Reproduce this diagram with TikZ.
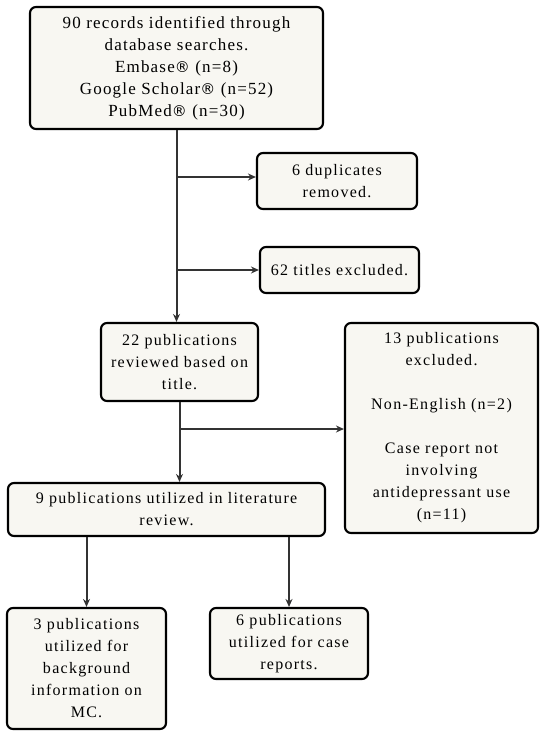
\documentclass[tikz,border=0pt]{standalone}
\usepackage{fontspec}
\setmainfont[LetterSpace=8]{Liberation Serif}
\newfontfamily\wideserif[LetterSpace=7]{Liberation Serif}
\newfontfamily\symfont{DejaVu Sans}
\newcommand{\regmark}{{\symfont\fontsize{15}{22}\selectfont ®}}
\usetikzlibrary{arrows.meta}
\definecolor{boxfill}{HTML}{F8F7F2}
\definecolor{linecol}{HTML}{333333}
\begin{document}
\begin{tikzpicture}[x=1pt,y=-1pt,
  box/.style={draw=black,line width=2.1pt,fill=boxfill,rounded corners=6pt,
    align=center,inner sep=0pt,font=\fontsize{16}{22}\selectfont},
  conn/.style={draw=linecol,line width=2pt,-{Stealth[length=8pt,width=7pt]}}]
\useasboundingbox (0,0) rectangle (550,741);
\node[box,minimum width=293pt,minimum height=122pt,font=\wideserif\fontsize{17}{22}\selectfont] (rec) at (176.5,68)
  {90 records identified through\\database searches.\\Embase\regmark{} (n=8)\\Google Scholar\regmark{} (n=52)\\PubMed\regmark{} (n=30)};
\node[box,minimum width=160pt,minimum height=56pt] (dup) at (337,181)
  {6 duplicates\\removed.};
\node[box,minimum width=159pt,minimum height=46pt] (tit) at (339.5,270)
  {62 titles excluded.};
\node[box,minimum width=157pt,minimum height=78pt] (rev) at (179.5,362)
  {22 publications\\reviewed based on\\title.};
\node[box,minimum width=193pt,minimum height=210pt] (exc) at (441.5,428)
  {13 publications\\excluded.\\[22pt]Non-English (n=2)\\[22pt]Case report not\\involving\\antidepressant use\\(n=11)};
\node[box,minimum width=317pt,minimum height=53pt] (lit) at (166.5,509.5)
  {9 publications utilized in literature\\review.};
\node[box,minimum width=159pt,minimum height=121pt] (bg) at (86.5,668.5)
  {3 publications\\utilized for\\background\\information on\\MC.};
\node[box,minimum width=158pt,minimum height=71pt] (cas) at (289,643.5)
  {6 publications\\utilized for case\\reports.};
\coordinate (t1) at (rec.south |- 0,177);
\coordinate (t2) at (rec.south |- 0,270);
\coordinate (t3) at (rev.south |- 0,429);
\draw[conn] (rec.south) -- (rec.south |- rev.north);
\draw[conn] (t1) -- (dup.west |- t1);
\draw[conn] (t2) -- (tit.west);
\draw[conn] (rev.south) -- (rev.south |- lit.north);
\draw[conn] (t3) -- (exc.west |- t3);
\draw[conn] (bg.north |- lit.south) -- (bg.north);
\draw[conn] (cas.north |- lit.south) -- (cas.north);
\end{tikzpicture}
\end{document}
